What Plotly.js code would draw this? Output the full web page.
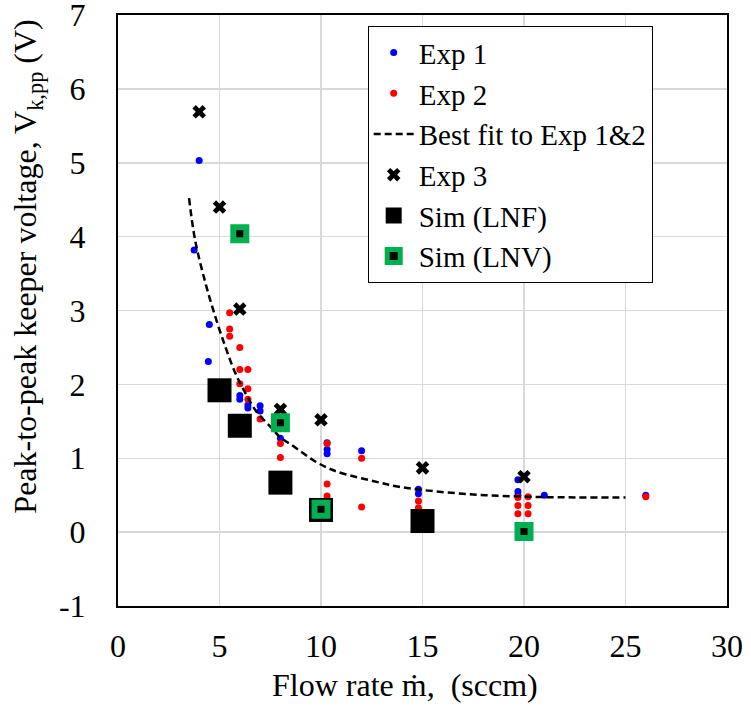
<!DOCTYPE html>
<html><head><meta charset="utf-8">
<script src="https://cdn.plot.ly/plotly-3.0.1.min.js"></script>
<style>body{margin:0;background:#fff}#c{width:751px;height:709px}</style>
</head><body><div id="c"></div>
<script>
const exp1X = [4, 3.75, 4.5, 4.45, 6, 6, 6.4, 6.4, 7, 7, 8, 10.3, 10.3, 10.3, 12, 14.8, 14.8, 19.7, 19.7, 19.7, 21, 26];
const exp1Y = [5.03, 3.82, 2.81, 2.31, 1.85, 1.80, 1.72, 1.68, 1.71, 1.64, 1.27, 1.21, 1.12, 1.06, 1.10, 0.58, 0.52, 0.71, 0.55, 0.50, 0.50, 0.50];
const exp2X = [5.5, 5.5, 5.5, 6, 6, 6.4, 6, 6.4, 6.4, 7, 8, 8, 10.3, 10.3, 10.3, 12, 12, 14.8, 14.8, 19.7, 20.2, 19.7, 20.2, 19.7, 20.2, 26];
const exp2Y = [2.97, 2.75, 2.65, 2.50, 2.20, 2.20, 2.01, 1.94, 1.80, 1.53, 1.20, 1.01, 1.20, 0.65, 0.49, 1.00, 0.34, 0.42, 0.33, 0.47, 0.48, 0.36, 0.36, 0.25, 0.25, 0.48];
const fitX = [3.5, 3.8, 4.3, 4.8, 5.3, 5.8, 6.3, 6.8, 7.6, 8.0, 8.5, 9.7, 10.4, 11, 12.9, 13.7, 15, 17.5, 20, 22.5, 25];
const fitY = [4.52, 3.95, 3.38, 2.91, 2.50, 2.14, 1.87, 1.64, 1.40, 1.28, 1.19, 0.96, 0.86, 0.80, 0.67, 0.62, 0.57, 0.51, 0.48, 0.47, 0.47];
const exp3X = [4, 5, 6, 8, 10, 15, 20];
const exp3Y = [5.69, 4.40, 3.02, 1.66, 1.52, 0.87, 0.75];
const lnfX = [5, 6, 8, 10, 15];
const lnfY = [1.92, 1.44, 0.67, 0.30, 0.15];
const lnvX = [6, 8, 10, 20];
const lnvY = [4.04, 1.48, 0.31, 0.01];
const xTicks = [0, 5, 10, 15, 20, 25, 30];
const yTicks = [-1, 0, 1, 2, 3, 4, 5, 6, 7];
const xTitle = 'Flow rate \u1E41,\u00A0 (sccm)';
const yTitle = 'Peak-to-peak keeper voltage, V<sub>k,pp</sub> (V)';

const FAM = 'Liberation Serif';
const traces = [
  {x: exp1X, y: exp1Y, mode: 'markers', type: 'scatter', name: 'Exp 1',
   marker: {color: '#0000ff', size: 7}},
  {x: exp2X, y: exp2Y, mode: 'markers', type: 'scatter', name: 'Exp 2',
   marker: {color: '#ff0000', size: 7}},
  {x: fitX, y: fitY, mode: 'lines', type: 'scatter', name: 'Best fit to Exp 1&2',
   line: {color: '#000', width: 2.5, dash: '7px,4px', shape: 'spline'}},
  {x: exp3X, y: exp3Y, mode: 'markers', type: 'scatter', name: 'Exp 3',
   marker: {color: '#000', size: 12, symbol: 'x'}},
  {x: lnfX, y: lnfY, mode: 'markers', type: 'scatter', name: 'Sim (LNF)',
   marker: {color: '#000', size: 24, symbol: 'square'}},
  {x: lnvX, y: lnvY, mode: 'markers', type: 'scatter', name: 'Sim (LNV)',
   marker: {color: '#000', size: 13, symbol: 'square', line: {color: '#00b050', width: 6}}}
];
const layout = {
  width: 751, height: 709,
  margin: {l: 118, r: 24, t: 15, b: 103},
  paper_bgcolor: '#fff', plot_bgcolor: '#fff',
  font: {family: FAM, color: '#000', size: 32},
  showlegend: true,
  legend: {x: 0.41, y: 0.981, xanchor: 'left', yanchor: 'top',
    bgcolor: '#fff', bordercolor: '#000', borderwidth: 1,
    font: {family: FAM, size: 29, color: '#000'}, itemwidth: 40, tracegroupgap: 0},
  xaxis: {range: [0, 30], tickvals: xTicks, ticktext: xTicks.map(String),
    showgrid: true, gridcolor: '#d9d9d9', gridwidth: 1.5, zeroline: false,
    showline: true, linecolor: '#000', linewidth: 2, mirror: true,
    ticks: '', ticklabelstandoff: 11, ticklabeloverflow: 'allow',
    tickfont: {family: FAM, size: 32, color: '#000'}},
  yaxis: {range: [-1, 7], tickvals: yTicks, ticktext: yTicks.map(String),
    showgrid: true, gridcolor: '#d9d9d9', gridwidth: 1.5, zeroline: false,
    showline: true, linecolor: '#000', linewidth: 2, mirror: true,
    ticks: '', ticklabelstandoff: 24, ticklabeloverflow: 'allow',
    tickfont: {family: FAM, size: 32, color: '#000'}},
  annotations: [
    {text: xTitle, xref: 'paper', yref: 'paper', x: 0.471, y: -0.134,
     xanchor: 'center', yanchor: 'middle', showarrow: false,
     font: {family: FAM, size: 32, color: '#000'}},
    {text: yTitle, xref: 'paper', yref: 'paper', x: -0.148, y: 0.574,
     xanchor: 'center', yanchor: 'middle', showarrow: false, textangle: -90,
     font: {family: FAM, size: 32, color: '#000'}}
  ]
};
Plotly.newPlot('c', traces, layout, {displayModeBar: false, staticPlot: true});
</script></body></html>
